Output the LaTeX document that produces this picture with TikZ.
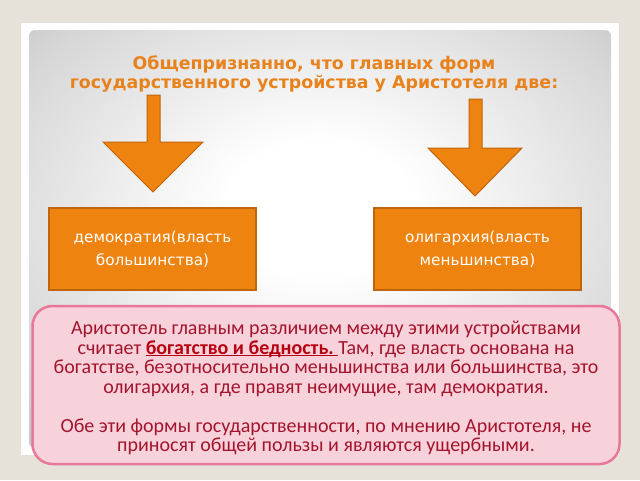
\documentclass[tikz,border=0pt]{standalone}
\usepackage{fontspec}
\setmainfont{DejaVu Sans}
\newfontfamily\notefont{Carlito}
\usepackage{tikz}
\usetikzlibrary{positioning}
\usepackage{xcolor}

\definecolor{pagebg}{HTML}{E6E1D9}
\definecolor{panelgray}{HTML}{A6A6A6}
\definecolor{titleorange}{HTML}{E8821C}
\definecolor{boxorange}{HTML}{EF8310}
\definecolor{boxedge}{HTML}{C0650C}
\definecolor{notepink}{HTML}{F8D2DA}
\definecolor{noteedge}{HTML}{E8789A}
\definecolor{notetext}{HTML}{A3152E}
\definecolor{notebold}{HTML}{B80010}

% soft glow for the slide panel
\pgfdeclareradialshading{panelglow}{\pgfpoint{0bp}{4bp}}{color(0bp)=(white); color(8bp)=(white);
    color(30bp)=(panelgray!45); color(50bp)=(panelgray); color(100bp)=(panelgray)}

% underline close to the baseline
\newcommand{\undertext}[1]{\setbox0\hbox{#1}\rlap{\rule[-2.2pt]{\wd0}{1.3pt}}\box0}

\begin{document}
\begin{tikzpicture}[
        x=1pt, y=-1pt,
        formbox/.style={rectangle, draw=boxedge, line width=1.5pt, fill=boxorange, text=white,
            minimum width=207pt, minimum height=82pt, align=center, font=\fontsize{15.3}{23}\selectfont},
        downarrow/.style={draw=boxedge, line width=1pt, fill=boxorange},
        note/.style={rectangle, rounded corners=20pt, draw=noteedge, line width=2.5pt, fill=notepink,
            minimum width=587pt, minimum height=158pt},
        notebody/.style={text=notetext, align=center, font=\notefont\fontsize{20}{19.5}\selectfont}
    ]
        % Background and slide
        \fill[pagebg] (0,0) rectangle (640,480);
        \fill[white] (21,23) rectangle (619,455);
        \shade[rounded corners=6pt, shading=panelglow] (29,30) rectangle (611,448);

        % Title
        \node[text=titleorange, align=center, font=\bfseries\fontsize{17.4}{19.5}\selectfont] (title) at (314,74)
            {Общепризнанно, что главных форм\\государственного устройства у Аристотеля две:};

        % Forms
        \node[formbox] (demo) at (152.5,249) {демократия(власть\\большинства)};
        \node[formbox] (olig) at (477.5,249) {олигархия(власть\\меньшинства)};

        % Arrows
        \draw[downarrow] (147,95) -- (160,95) -- (160,142) -- (203,142) -- (153,192)
            -- (103,142) -- (147,142) -- cycle;
        \draw[downarrow] (469,99) -- (482,99) -- (482,148) -- (522,148) -- (475,196)
            -- (428,148) -- (469,148) -- cycle;

        % Note
        \node[note] (remark) at (326,385) {};
        \node[notebody] (remarktext) at ([yshift=-3pt]remark.center) {Аристотель главным различием между этими устройствами\\
            считает \textcolor{notebold}{\undertext{\textbf{богатство и бедность.}\ }}Там, где власть основана на\\
            богатстве, безотносительно меньшинства или большинства, это\\
            олигархия, а где правят неимущие, там демократия.\\[19.5pt]
            Обе эти формы государственности, по мнению Аристотеля, не\\
            приносят общей пользы и являются ущербными.};
    \end{tikzpicture}
\end{document}
